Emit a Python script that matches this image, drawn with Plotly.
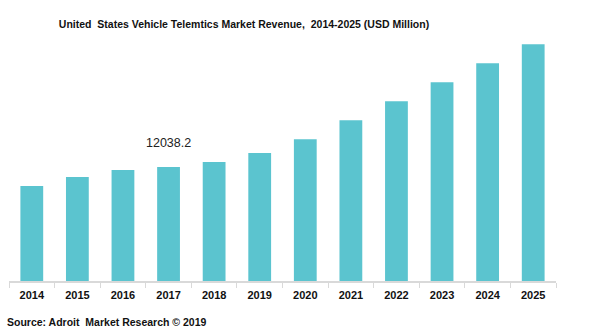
import plotly.graph_objects as go

years = ["2014", "2015", "2016", "2017", "2018", "2019", "2020", "2021", "2022", "2023", "2024", "2025"]
revenue = [10030, 10980, 11720, 12038.2, 12570, 13520, 14990, 17000, 19010, 21010, 23020, 25030]
label_year = "2017"
label_text = "12038.2"

FONT = "Liberation Sans, Arial"

fig = go.Figure()
fig.add_trace(go.Bar(x=years, y=revenue, marker=dict(color="#5BC4CF", line=dict(width=0)), hoverinfo="x+y"))

idx = years.index(label_year)
fig.add_annotation(x=idx, y=revenue[idx], xref="x", yref="y", text=label_text, showarrow=False,
                   yshift=24, font=dict(family=FONT, size=12.5, color="#222"))

fig.update_layout(
    width=595, height=332,
    margin=dict(l=9, r=39, t=35, b=51),
    paper_bgcolor="white", plot_bgcolor="white",
    bargap=0.5,
    showlegend=False,
    title=dict(text="<b>United  States Vehicle Telemtics Market Revenue,  2014-2025 (USD Million)</b>",
               xref="paper", x=(244 - 9) / 547, xanchor="center", yref="container", y=1 - 24 / 332, yanchor="middle",
               font=dict(family=FONT, size=10.5, color="#111")),
    xaxis=dict(type="category", range=[-0.5, 11.5], showline=True, linecolor="#d9d9d9", linewidth=1.5,
               ticks="outside", tickson="boundaries", ticklen=5, tickcolor="#d9d9d9",
               tickvals=years, ticktext=["<b>" + y + "</b>" for y in years], tickangle=0,
               ticklabelstandoff=3,
               tickfont=dict(family=FONT, size=11, color="#111"), showgrid=False),
    yaxis=dict(range=[0, 26000], visible=False, showgrid=False),
)

fig.add_annotation(x=-4 / 547, y=-41 / 246, xref="paper", yref="paper", xanchor="left", yanchor="middle",
                   text="<b>Source: Adroit  Market Research © 2019</b>", showarrow=False,
                   font=dict(family=FONT, size=10.5, color="#111"))

fig.write_html("out.html")
